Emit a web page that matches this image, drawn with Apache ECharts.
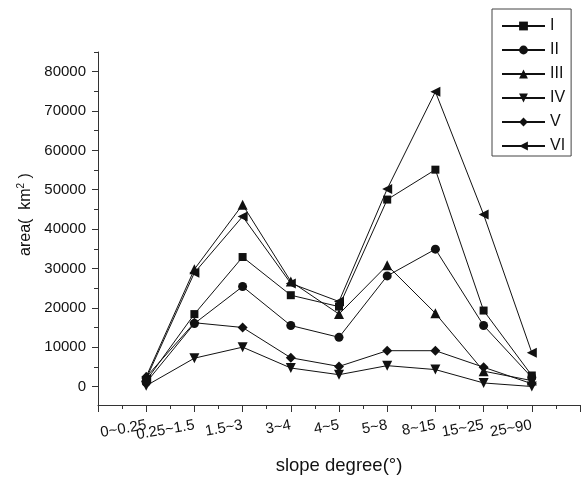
<!DOCTYPE html>
<html>
<head>
<meta charset="utf-8">
<script src="https://cdn.jsdelivr.net/npm/echarts@6/dist/echarts.min.js"></script>
<style>
  html, body { margin: 0; padding: 0; background: #fff; }
  #chart-container { width: 587px; height: 478px; }
</style>
</head>
<body>
<div id="chart-container"></div>
<script>
var dom = document.getElementById('chart-container');
var myChart = echarts.init(dom, null, { renderer: 'canvas' });

// slope classes
const categories = ['0~0.25', '0.25~1.5', '1.5~3', '3~4', '4~5', '5~8', '8~15', '15~25', '25~90'];
const seriesNames = ['I', 'II', 'III', 'IV', 'V', 'VI'];

// area (km2) per slope class
const valuesI = [1500, 18400, 32900, 23200, 20300, 47500, 55100, 19300, 2800];
const valuesII = [1000, 16000, 25400, 15500, 12500, 28100, 34900, 15500, 2300];
const valuesIII = [2500, 29800, 46200, 26700, 18400, 30800, 18600, 3900, 1500];
const valuesIV = [200, 7200, 10000, 4700, 3000, 5300, 4300, 900, 0];
const valuesV = [2400, 16200, 15000, 7300, 5100, 9100, 9100, 4900, 700];
const valuesVI = [2000, 28900, 43200, 26200, 21600, 50200, 74900, 43700, 8600];

// tick labels
const yTicks = [0, 10000, 20000, 30000, 40000, 50000, 60000, 70000, 80000];
const yMinorTicks = [5000, 15000, 25000, 35000, 45000, 55000, 65000, 75000, 85000];
const xTicks = [0, 1, 2, 3, 4, 5, 6, 7, 8, 9, 10];
const xMinorTicks = [0.5, 1.5, 2.5, 3.5, 4.5, 5.5, 6.5, 7.5, 8.5, 9.5];

const allValues = [valuesI, valuesII, valuesIII, valuesIV, valuesV, valuesVI];
const symbols = ['rect', 'circle', 'triangle', 'triangle', 'diamond', 'triangle'];
const symbolRotates = [0, 0, 0, 180, 0, 90];
const symbolSizes = [8, 9, 10, 10, 10, 10];

const ink = '#111';
const font = 'Liberation Sans, Arial, sans-serif';

const series = seriesNames.map(function (name, i) {
  return {
    name: name,
    type: 'line',
    xAxisIndex: 0,
    yAxisIndex: 0,
    symbol: symbols[i],
    symbolRotate: symbolRotates[i],
    symbolSize: symbolSizes[i],
    showAllSymbol: true,
    lineStyle: { color: ink, width: 1 },
    itemStyle: { color: ink },
    z: 10 - i,
    data: allValues[i].map(function (v, j) { return [j + 1, v]; })
  };
});

const yMin = -4700;
const yMax = 85000;

option = {
  backgroundColor: '#fff',
  animation: false,
  grid: { left: 98, right: 7, top: 52, bottom: 73, containLabel: false, outerBoundsMode: 'none' },
  legend: {
    orient: 'vertical',
    left: 492,
    top: 9,
    data: seriesNames,
    itemWidth: 43,
    itemHeight: 11,
    itemGap: 8,
    padding: [9, 6, 2, 9],
    borderColor: '#444',
    borderWidth: 1,
    textStyle: { fontFamily: font, fontSize: 16, color: ink, lineHeight: 14 }
  },
  xAxis: [
    {
      type: 'value',
      min: 0,
      max: 10,
      name: 'slope degree(°)',
      nameLocation: 'middle',
      nameGap: 51,
      nameTextStyle: { fontFamily: font, fontSize: 18.5, color: ink },
      splitLine: { show: false },
      axisLine: { onZero: false, lineStyle: { color: '#333', width: 1 } },
      axisTick: { customValues: xTicks, length: 7, lineStyle: { color: '#333' } },
      axisLabel: {
        // blank labels at both ends keep every category label visible
        customValues: xTicks,
        interval: 0,
        hideOverlap: false,
        rotate: 10,
        margin: 20,
        fontFamily: font,
        fontSize: 15,
        color: ink,
        formatter: function (v) { return categories[Math.round(v) - 1] || ''; }
      }
    },
    {
      type: 'value',
      min: 0,
      max: 10,
      position: 'bottom',
      splitLine: { show: false },
      axisLine: { show: false, onZero: false },
      axisTick: { customValues: xMinorTicks, length: 4, lineStyle: { color: '#333' } },
      axisLabel: { show: false }
    }
  ],
  yAxis: [
    {
      type: 'value',
      min: yMin,
      max: yMax,
      name: 'area(  km{s|2} )',
      nameLocation: 'middle',
      nameGap: 58,
      nameRotate: 90,
      nameTextStyle: {
        fontFamily: font,
        fontSize: 16,
        color: ink,
        padding: [0, 0, 0, 28],
        rich: { s: { fontFamily: font, fontSize: 10, verticalAlign: 'top', padding: [0, 0, 8, 0], color: ink } }
      },
      splitLine: { show: false },
      axisLine: { show: true, onZero: false, lineStyle: { color: '#333', width: 1 } },
      axisTick: { customValues: yTicks, length: 6, lineStyle: { color: '#333' } },
      axisLabel: {
        customValues: yTicks,
        margin: 12,
        fontFamily: font,
        fontSize: 15,
        color: ink,
        formatter: function (v) { return String(v); }
      }
    },
    {
      type: 'value',
      min: yMin,
      max: yMax,
      position: 'left',
      splitLine: { show: false },
      axisLine: { show: false, onZero: false },
      axisTick: { customValues: yMinorTicks, length: 4, lineStyle: { color: '#333' } },
      axisLabel: { show: false }
    }
  ],
  series: series
};

myChart.setOption(option);
window.addEventListener('resize', myChart.resize);
</script>
</body>
</html>
